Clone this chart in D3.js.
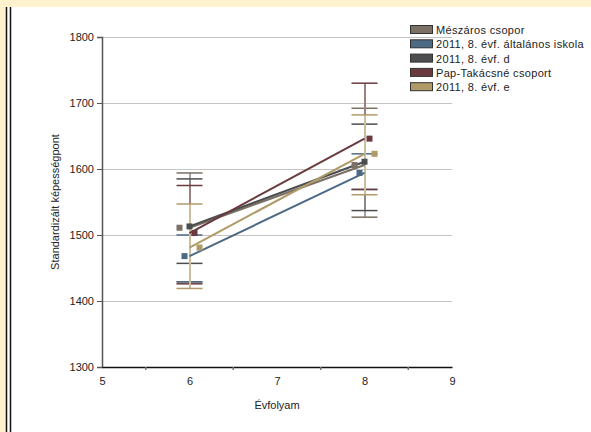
<!DOCTYPE html>
<html><head><meta charset="utf-8">
<script src="https://cdn.jsdelivr.net/npm/d3@7"></script>
<style>
html,body{margin:0;padding:0;background:#fff;}
text{font-family:"Liberation Sans",Arial,sans-serif;font-size:11px;fill:#222;}
</style></head>
<body>
<svg id="c" width="591" height="432"></svg>
<script>
const seriesNames = ["Mészáros csopor","2011, 8. évf. általános iskola","2011, 8. évf. d","Pap-Takácsné csoport","2011, 8. évf. e"];
const seriesColors = ["#7a7064","#4d6a85","#4b4d4f","#6a3a3e","#b09a68"];
const grades = [6, 8];
const means6 = [1511, 1468, 1513, 1503, 1481];
const means8 = [1606, 1594, 1611, 1646, 1623];
const low6 = [1429, 1429, 1457, 1426, 1419];
const high6 = [1594, 1500, 1585, 1575, 1547];
const low8 = [1527, 1569, 1537, 1569, 1561];
const high8 = [1692, 1623, 1668, 1730, 1682];
const xTicks = [5, 6, 7, 8, 9];
const yTicks = [1300, 1400, 1500, 1600, 1700, 1800];

const svg = d3.select("#c");
// frame
svg.append("rect").attr("x",0).attr("y",0).attr("width",591).attr("height",7).attr("fill","#fff2cc");
svg.append("rect").attr("x",0).attr("y",0).attr("width",6).attr("height",432).attr("fill","#fff2cc");
svg.append("line").attr("x1",6.5).attr("x2",6.5).attr("y1",7).attr("y2",432).attr("stroke","#111").attr("stroke-width",1.5);
svg.append("line").attr("x1",10.5).attr("x2",10.5).attr("y1",7).attr("y2",432).attr("stroke","#111").attr("stroke-width",1.5);

const x = d3.scaleLinear().domain([5,9]).range([102,452]);
const y = d3.scaleLinear().domain([1300,1800]).range([367,37]);

// grid
svg.append("g").selectAll("line").data(yTicks.filter(t=>t>1300)).join("line")
  .attr("x1",x(5)).attr("x2",x(9)).attr("y1",d=>y(d)+0.5).attr("y2",d=>y(d)+0.5)
  .attr("stroke","#c4c4c4").attr("stroke-width",1);

// y axis
const ya = svg.append("g").attr("transform",`translate(${x(5)},0)`)
  .call(d3.axisLeft(y).tickValues(yTicks).tickSize(5).tickPadding(3).tickFormat(d3.format("d")));
ya.select(".domain").attr("stroke","#555").attr("stroke-width",1.5);
ya.selectAll(".tick line").attr("stroke","#555");
ya.selectAll("text").style("font-family","Liberation Sans, Arial").style("font-size","11px").attr("fill","#222");

// x axis
const xa = svg.append("g").attr("transform",`translate(0,${y(1300)})`)
  .call(d3.axisBottom(x).tickValues(xTicks).tickSize(0).tickPadding(10).tickFormat(d3.format("d")));
xa.select(".domain").attr("stroke","#111").attr("stroke-width",1.5);
xa.selectAll("text").style("font-family","Liberation Sans, Arial").style("font-size","11px").attr("fill","#222");
svg.append("g").selectAll("line").data(d3.range(5.5,9,1)).join("line")
  .attr("x1",d=>x(d)).attr("x2",d=>x(d)).attr("y1",y(1300)).attr("y2",y(1300)+3)
  .attr("stroke","#777").attr("stroke-width",1.5);

// titles
svg.append("text").attr("x",277).attr("y",409).attr("text-anchor","middle").text("Évfolyam");
svg.append("text").attr("transform","translate(59,202) rotate(-90)").attr("text-anchor","middle").text("Standardizált képességpont");

// error bars
const eb = svg.append("g");
seriesNames.forEach((n,i)=>{
  const stemCol = d3.interpolateRgb(seriesColors[i], "#ffffff")(0.35);
  [[6,low6[i],high6[i]],[8,low8[i],high8[i]]].forEach(([g,lo,hi])=>{
    eb.append("line").attr("x1",x(g)+0.5).attr("x2",x(g)+0.5).attr("y1",y(hi)).attr("y2",y(lo))
      .attr("stroke",stemCol).attr("stroke-width",2);
    [lo,hi].forEach(v=>{
      eb.append("line").attr("x1",x(g)-13).attr("x2",x(g)+13).attr("y1",y(v)).attr("y2",y(v))
        .attr("stroke",seriesColors[i]).attr("stroke-width",1.5);
    });
  });
});

// lines
const lg = svg.append("g");
seriesNames.forEach((n,i)=>{
  lg.append("line").attr("x1",x(grades[0])).attr("y1",y(means6[i])).attr("x2",x(grades[1])).attr("y2",y(means8[i]))
    .attr("stroke",seriesColors[i]).attr("stroke-width",2);
});
// markers
const mg = svg.append("g");
seriesNames.forEach((n,i)=>{
  const off = (i-2)*5;
  [[grades[0],means6[i]],[grades[1],means8[i]]].forEach(([g,v])=>{
    mg.append("rect").attr("x",x(g)+off-3).attr("y",y(v)-3).attr("width",6).attr("height",6)
      .attr("fill",seriesColors[i]);
  });
});

// legend
const leg = svg.append("g");
const legTexts = [];
seriesNames.forEach((n,i)=>{
  const yy = 30 + i*14.3;
  leg.append("rect").attr("x",410.5).attr("y",yy-4.5).attr("width",22).attr("height",8)
    .attr("fill",seriesColors[i]).attr("stroke","#333").attr("stroke-width",1);
  legTexts.push(leg.append("text").attr("x",436).attr("y",yy+4)
    .style("font-family","Liberation Sans, Arial").style("font-size","11px")
    .text(n));
});
// widen legend text slightly so the longest label spans ~148px like the reference
const longest = legTexts[1];
const w = longest.node().getComputedTextLength();
const sp = Math.max(0, Math.min(1, (148 - w) / seriesNames[1].length));
legTexts.forEach(t => t.style("letter-spacing", sp + "px"));
</script>
</body></html>
